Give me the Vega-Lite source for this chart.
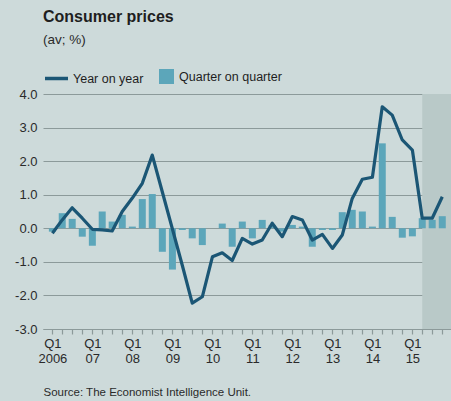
{
  "$schema": "https://vega.github.io/schema/vega-lite/v6.json",
  "width": 408,
  "height": 235,
  "autosize": {"type": "none"},
  "padding": {"left": 43, "top": 94, "right": 0, "bottom": 72},
  "background": "#cddada",
  "config": {
    "view": {"stroke": null},
    "font": "Liberation Sans, sans-serif",
    "legend": {"padding": 0},
    "axisY": {
      "grid": true,
      "gridColor": "#8c9a9a",
      "gridWidth": 1.2,
      "domain": false,
      "ticks": false,
      "labelPadding": 6,
      "labelFont": "Liberation Sans, sans-serif",
      "labelFontSize": 13,
      "labelColor": "#2a2a2a"
    }
  },
  "title": {
    "text": "Consumer prices",
    "subtitle": "(av; %)",
    "anchor": "start",
    "frame": "group",
    "font": "Liberation Sans, sans-serif",
    "fontSize": 16,
    "fontWeight": "bold",
    "color": "#1e1e1e",
    "subtitleFont": "Liberation Sans, sans-serif",
    "subtitleFontSize": 13.5,
    "subtitleColor": "#2a2a2a",
    "subtitlePadding": 8,
    "offset": 19
  },
  "data": {
    "values": [
      {"q": "2006-01-01", "yoy": -0.15, "qoq": -0.1},
      {"q": "2006-04-01", "yoy": 0.25, "qoq": 0.45},
      {"q": "2006-07-01", "yoy": 0.61, "qoq": 0.28},
      {"q": "2006-10-01", "yoy": 0.3, "qoq": -0.25},
      {"q": "2007-01-01", "yoy": -0.03, "qoq": -0.52},
      {"q": "2007-04-01", "yoy": -0.05, "qoq": 0.5},
      {"q": "2007-07-01", "yoy": -0.08, "qoq": 0.2},
      {"q": "2007-10-01", "yoy": 0.5, "qoq": 0.4},
      {"q": "2008-01-01", "yoy": 0.9, "qoq": 0.05},
      {"q": "2008-04-01", "yoy": 1.34, "qoq": 0.87},
      {"q": "2008-07-01", "yoy": 2.18, "qoq": 1.02},
      {"q": "2008-10-01", "yoy": 1.08, "qoq": -0.7},
      {"q": "2009-01-01", "yoy": -0.02, "qoq": -1.23},
      {"q": "2009-04-01", "yoy": -1.1, "qoq": -0.05},
      {"q": "2009-07-01", "yoy": -2.23, "qoq": -0.3},
      {"q": "2009-10-01", "yoy": -2.04, "qoq": -0.5},
      {"q": "2010-01-01", "yoy": -0.85, "qoq": 0.0},
      {"q": "2010-04-01", "yoy": -0.73, "qoq": 0.14},
      {"q": "2010-07-01", "yoy": -0.96, "qoq": -0.55},
      {"q": "2010-10-01", "yoy": -0.3, "qoq": 0.2},
      {"q": "2011-01-01", "yoy": -0.47, "qoq": -0.3},
      {"q": "2011-04-01", "yoy": -0.35, "qoq": 0.25},
      {"q": "2011-07-01", "yoy": 0.15, "qoq": 0.1},
      {"q": "2011-10-01", "yoy": -0.25, "qoq": -0.1},
      {"q": "2012-01-01", "yoy": 0.35, "qoq": 0.1},
      {"q": "2012-04-01", "yoy": 0.25, "qoq": 0.05},
      {"q": "2012-07-01", "yoy": -0.35, "qoq": -0.55},
      {"q": "2012-10-01", "yoy": -0.18, "qoq": -0.05},
      {"q": "2013-01-01", "yoy": -0.6, "qoq": -0.05},
      {"q": "2013-04-01", "yoy": -0.2, "qoq": 0.48},
      {"q": "2013-07-01", "yoy": 0.89, "qoq": 0.55},
      {"q": "2013-10-01", "yoy": 1.46, "qoq": 0.5},
      {"q": "2014-01-01", "yoy": 1.52, "qoq": 0.05},
      {"q": "2014-04-01", "yoy": 3.62, "qoq": 2.53},
      {"q": "2014-07-01", "yoy": 3.37, "qoq": 0.34},
      {"q": "2014-10-01", "yoy": 2.63, "qoq": -0.28},
      {"q": "2015-01-01", "yoy": 2.33, "qoq": -0.24},
      {"q": "2015-04-01", "yoy": 0.3, "qoq": 0.3},
      {"q": "2015-07-01", "yoy": 0.3, "qoq": 0.25},
      {"q": "2015-10-01", "yoy": 0.94, "qoq": 0.36}
    ]
  },
  "encoding": {
    "x": {
      "field": "q",
      "type": "temporal",
      "scale": {
        "type": "utc",
        "domain": [
          {"year": 2005, "month": 11, "date": 22, "utc": true},
          {"year": 2015, "month": 11, "date": 4, "utc": true}
        ]
      },
      "axis": {
        "tickCount": {"interval": "month", "step": 3},
        "labelExpr": "utcmonth(datum.value) == 0 ? ['Q1', utcyear(datum.value) == 2006 ? '2006' : utcFormat(datum.value, '%y')] : ''",
        "labelOverlap": false,
        "labelFlush": false,
        "labelBound": false,
        "grid": false,
        "tickSize": 5,
        "tickColor": "#8c9a9a",
        "tickWidth": 1.2,
        "domainColor": "#8c9a9a",
        "domainWidth": 1.2,
        "labelFont": "Liberation Sans, sans-serif",
        "labelFontSize": 13,
        "labelLineHeight": 15,
        "labelPadding": 3,
        "labelColor": "#2a2a2a",
        "title": "Source: The Economist Intelligence Unit.",
        "titleFont": "Liberation Sans, sans-serif",
        "titleFontSize": 11.5,
        "titleFontWeight": "normal",
        "titleColor": "#2a2a2a",
        "titleAnchor": "start",
        "titleAlign": "left",
        "titlePadding": 21
      }
    }
  },
  "layer": [
    {
      "data": {"values": [{"period": "forecast", "start": "2015-04-01", "end": "2016-03-01"}]},
      "mark": {"type": "rect", "color": "#b9c9c8", "clip": true},
      "encoding": {
        "x": {"field": "start", "type": "temporal"},
        "x2": {"field": "end"},
        "y": {
          "datum": 4,
          "type": "quantitative",
          "scale": {"domain": [-3, 4], "nice": false},
          "axis": {"values": [-3, -2, -1, 0, 1, 2, 3, 4], "labelExpr": "replace(format(datum.value, '.1f'), '\u2212', '-')", "title": null}
        },
        "y2": {"datum": -3}
      }
    },
    {
      "mark": {"type": "bar", "size": 7},
      "encoding": {
        "y": {
          "field": "qoq",
          "type": "quantitative",
          "scale": {"domain": [-3, 4], "nice": false},
          "axis": {"values": [-3, -2, -1, 0, 1, 2, 3, 4], "labelExpr": "replace(format(datum.value, '.1f'), '\u2212', '-')", "title": null}
        },
        "fill": {
          "datum": "Quarter on quarter",
          "type": "nominal",
          "scale": {"range": ["#5ca6ba"]},
          "legend": {
            "orient": "none",
            "legendX": 116,
            "legendY": -25,
            "title": null,
            "symbolType": "square",
            "symbolSize": 225,
            "symbolStrokeWidth": 0,
            "labelFont": "Liberation Sans, sans-serif",
            "labelFontSize": 12.5,
            "labelColor": "#1e1e1e",
            "labelOffset": 5
          }
        }
      }
    },
    {
      "data": {"values": [{"ref": "zero"}]},
      "mark": {"type": "rule", "strokeDash": [5, 3], "color": "#1a1a1a", "strokeWidth": 1.5},
      "encoding": {
        "y": {
          "datum": 0,
          "type": "quantitative",
          "scale": {"domain": [-3, 4], "nice": false},
          "axis": {"values": [-3, -2, -1, 0, 1, 2, 3, 4], "labelExpr": "replace(format(datum.value, '.1f'), '\u2212', '-')", "title": null}
        }
      }
    },
    {
      "mark": {"type": "line", "strokeWidth": 3.2, "strokeJoin": "round"},
      "encoding": {
        "y": {
          "field": "yoy",
          "type": "quantitative",
          "scale": {"domain": [-3, 4], "nice": false},
          "axis": {"values": [-3, -2, -1, 0, 1, 2, 3, 4], "labelExpr": "replace(format(datum.value, '.1f'), '\u2212', '-')", "title": null}
        },
        "stroke": {
          "datum": "Year on year",
          "type": "nominal",
          "scale": {"range": ["#1b5675"]},
          "legend": {
            "orient": "none",
            "legendX": 0,
            "legendY": -29,
            "title": null,
            "symbolType": "stroke",
            "symbolSize": 529,
            "symbolStrokeWidth": 3.5,
            "labelFont": "Liberation Sans, sans-serif",
            "labelFontSize": 12.5,
            "labelColor": "#1e1e1e",
            "labelOffset": 3
          }
        }
      }
    }
  ]
}
